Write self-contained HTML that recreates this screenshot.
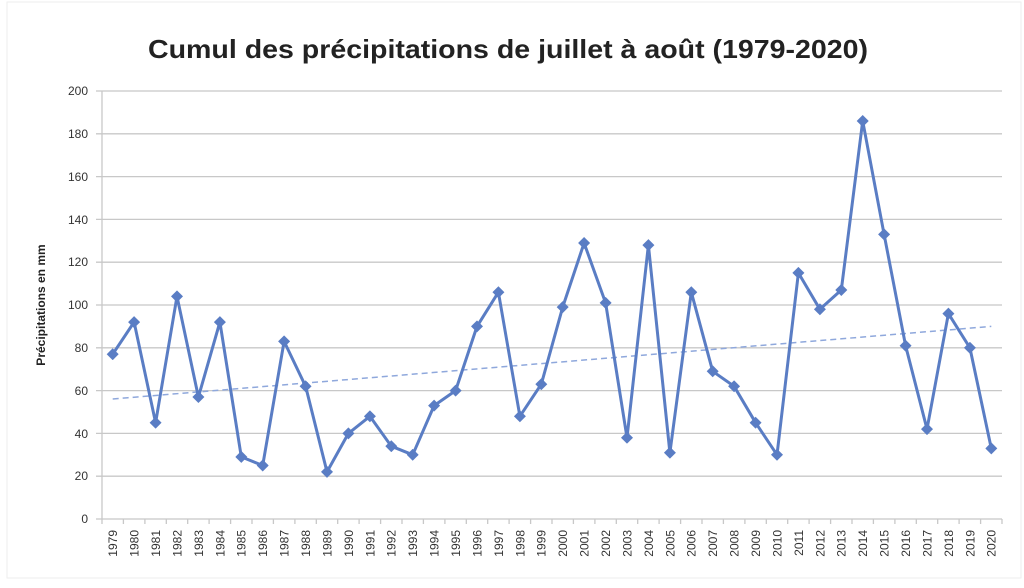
<!DOCTYPE html>
<html><head><meta charset="utf-8"><style>
body{margin:0;background:#fff;}
svg{display:block;font-family:"Liberation Sans",sans-serif;}
</style></head><body>
<svg width="1024" height="588" viewBox="0 0 1024 588">
<defs>
<marker id="d" viewBox="-6 -6 12 12" markerWidth="12" markerHeight="12" markerUnits="userSpaceOnUse" refX="0" refY="0">
<path d="M0,-6 L6,0 L0,6 L-6,0Z" fill="#5a7dc4"/>
</marker>
</defs>
<rect x="7" y="2" width="1014" height="576" fill="none" stroke="#eeeeee"/>
<text x="148" y="58" textLength="720" lengthAdjust="spacingAndGlyphs" font-size="26" font-weight="bold" fill="#222">Cumul des précipitations de juillet à août (1979-2020)</text>
<g stroke="#c8c8c8" stroke-width="1.3">
<line x1="96" y1="91" x2="1002" y2="91"/><line x1="96" y1="133.8" x2="1002" y2="133.8"/>
<line x1="96" y1="176.6" x2="1002" y2="176.6"/><line x1="96" y1="219.4" x2="1002" y2="219.4"/>
<line x1="96" y1="262.2" x2="1002" y2="262.2"/><line x1="96" y1="305" x2="1002" y2="305"/>
<line x1="96" y1="347.8" x2="1002" y2="347.8"/><line x1="96" y1="390.6" x2="1002" y2="390.6"/>
<line x1="96" y1="433.4" x2="1002" y2="433.4"/><line x1="96" y1="476.2" x2="1002" y2="476.2"/>
<line x1="96" y1="519" x2="1002" y2="519"/>
<line x1="102" y1="91" x2="102" y2="519"/>
</g>
<g font-size="12" fill="#333" text-anchor="end">
<text x="88" y="95">200</text><text x="88" y="138">180</text><text x="88" y="181">160</text>
<text x="88" y="224">140</text><text x="88" y="266">120</text><text x="88" y="309">100</text>
<text x="88" y="352">80</text><text x="88" y="395">60</text><text x="88" y="438">40</text>
<text x="88" y="480">20</text><text x="88" y="523">0</text>
</g>
<text transform="translate(45,305) rotate(-90)" text-anchor="middle" font-size="12" font-weight="bold" fill="#222">Précipitations en mm</text>
<path stroke="#c8c8c8" stroke-width="1.3" d="M102,519v5M123.4,519v5M144.9,519v5M166.3,519v5M187.7,519v5M209.1,519v5M230.6,519v5M252,519v5M273.4,519v5M294.9,519v5M316.3,519v5M337.7,519v5M359.1,519v5M380.6,519v5M402,519v5M423.4,519v5M444.9,519v5M466.3,519v5M487.7,519v5M509.1,519v5M530.6,519v5M552,519v5M573.4,519v5M594.9,519v5M616.3,519v5M637.7,519v5M659.1,519v5M680.6,519v5M702,519v5M723.4,519v5M744.9,519v5M766.3,519v5M787.7,519v5M809.1,519v5M830.6,519v5M852,519v5M873.4,519v5M894.9,519v5M916.3,519v5M937.7,519v5M959.1,519v5M980.6,519v5M1002,519v5"/>
<g font-size="12" fill="#333" text-anchor="end">
<text transform="translate(117,530) rotate(-90)">1979</text><text transform="translate(138.5,530) rotate(-90)">1980</text>
<text transform="translate(160,530) rotate(-90)">1981</text><text transform="translate(181.4,530) rotate(-90)">1982</text>
<text transform="translate(202.8,530) rotate(-90)">1983</text><text transform="translate(224.3,530) rotate(-90)">1984</text>
<text transform="translate(245.7,530) rotate(-90)">1985</text><text transform="translate(267.1,530) rotate(-90)">1986</text>
<text transform="translate(288.5,530) rotate(-90)">1987</text><text transform="translate(310,530) rotate(-90)">1988</text>
<text transform="translate(331.4,530) rotate(-90)">1989</text><text transform="translate(352.8,530) rotate(-90)">1990</text>
<text transform="translate(374.3,530) rotate(-90)">1991</text><text transform="translate(395.7,530) rotate(-90)">1992</text>
<text transform="translate(417.1,530) rotate(-90)">1993</text><text transform="translate(438.5,530) rotate(-90)">1994</text>
<text transform="translate(460,530) rotate(-90)">1995</text><text transform="translate(481.4,530) rotate(-90)">1996</text>
<text transform="translate(502.8,530) rotate(-90)">1997</text><text transform="translate(524.3,530) rotate(-90)">1998</text>
<text transform="translate(545.7,530) rotate(-90)">1999</text><text transform="translate(567.1,530) rotate(-90)">2000</text>
<text transform="translate(588.5,530) rotate(-90)">2001</text><text transform="translate(610,530) rotate(-90)">2002</text>
<text transform="translate(631.4,530) rotate(-90)">2003</text><text transform="translate(652.8,530) rotate(-90)">2004</text>
<text transform="translate(674.3,530) rotate(-90)">2005</text><text transform="translate(695.7,530) rotate(-90)">2006</text>
<text transform="translate(717.1,530) rotate(-90)">2007</text><text transform="translate(738.5,530) rotate(-90)">2008</text>
<text transform="translate(760,530) rotate(-90)">2009</text><text transform="translate(781.4,530) rotate(-90)">2010</text>
<text transform="translate(802.8,530) rotate(-90)">2011</text><text transform="translate(824.3,530) rotate(-90)">2012</text>
<text transform="translate(845.7,530) rotate(-90)">2013</text><text transform="translate(867.1,530) rotate(-90)">2014</text>
<text transform="translate(888.5,530) rotate(-90)">2015</text><text transform="translate(910,530) rotate(-90)">2016</text>
<text transform="translate(931.4,530) rotate(-90)">2017</text><text transform="translate(952.8,530) rotate(-90)">2018</text>
<text transform="translate(974.3,530) rotate(-90)">2019</text><text transform="translate(995.7,530) rotate(-90)">2020</text>
</g>
<line x1="112.7" y1="399" x2="991.3" y2="326.4" stroke="#8fa8dc" stroke-width="1.5" stroke-dasharray="6,4"/>
<polyline fill="none" stroke="#5a7dc4" stroke-width="3" stroke-linejoin="round" marker-start="url(#d)" marker-mid="url(#d)" marker-end="url(#d)" points="112.7,354.2 134.1,322.1 155.6,422.7 177,296.4 198.4,397 219.9,322.1 241.3,456.9 262.7,465.5 284.1,341.4 305.6,386.3 327,471.9 348.4,433.4 369.9,416.3 391.3,446.2 412.7,454.8 434.1,405.6 455.6,390.6 477,326.4 498.4,292.2 519.9,416.3 541.3,384.2 562.7,307.1 584.1,243 605.6,302.9 627,437.7 648.4,245.1 669.9,452.7 691.3,292.2 712.7,371.3 734.1,386.3 755.6,422.7 777,454.8 798.4,272.9 819.9,309.3 841.3,290 862.7,121 884.1,234.4 905.6,345.7 927,429.1 948.4,313.6 969.9,347.8 991.3,448.4"/>
</svg>
</body></html>
